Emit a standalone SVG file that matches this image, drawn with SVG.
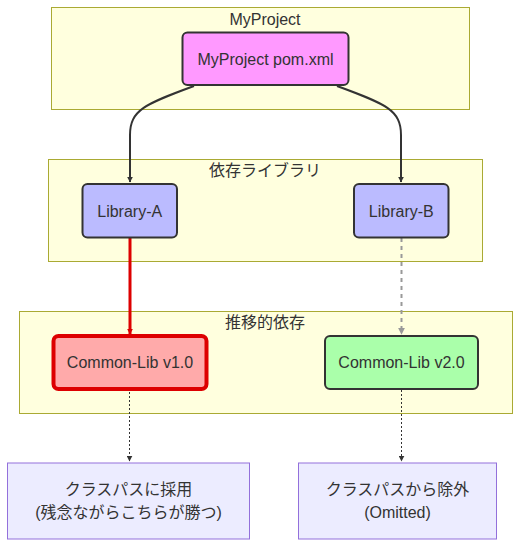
<svg xmlns="http://www.w3.org/2000/svg" width="528" height="556" viewBox="0 0 528 556">
<defs>
<style>
.cluster{fill:#ffffde;stroke:#aaaa33;stroke-width:1}
.lbl{font-family:"Liberation Sans","Noto Sans CJK JP",sans-serif;font-size:16px;fill:#333;text-anchor:middle}
.node{stroke:#333;stroke-width:2}
.edge{fill:none;stroke:#333;stroke-width:2}
</style>
<marker id="arrBlack" viewBox="0 0 10 10" refX="9" refY="5" markerWidth="6" markerHeight="6" markerUnits="userSpaceOnUse" orient="auto"><path d="M0,0 L10,5 L0,10 z" fill="#333"/></marker>
<marker id="arrRed" viewBox="0 0 10 10" refX="9" refY="5" markerWidth="6" markerHeight="6" markerUnits="userSpaceOnUse" orient="auto"><path d="M0,0 L10,5 L0,10 z" fill="#dd0000"/></marker>
<marker id="arrGray" viewBox="0 0 10 10" refX="9" refY="5" markerWidth="7" markerHeight="7" markerUnits="userSpaceOnUse" orient="auto"><path d="M0,0 L10,5 L0,10 z" fill="#999"/></marker>
</defs>
<rect width="528" height="556" fill="#fff"/>
<g id="cluster-MyProject">
<rect class="cluster" x="51.5" y="7.5" width="418" height="102"/>
<text class="lbl" x="265" y="24.5">MyProject</text>
</g>
<g id="cluster-deps">
<rect class="cluster" x="48.5" y="159.5" width="434" height="102"/>
<text class="lbl" x="265" y="175.5">依存ライブラリ</text>
</g>
<g id="cluster-trans">
<rect class="cluster" x="19.5" y="311.5" width="493" height="102"/>
<text class="lbl" x="265" y="327.5">推移的依存</text>
</g>
<g id="connectors">
<path class="edge" d="M194,86 C145,104 130,110 130,135 L130,182" marker-end="url(#arrBlack)"/>
<path class="edge" d="M337,86 C386,104 401,110 401,135 L401,182" marker-end="url(#arrBlack)"/>
<path fill="none" stroke="#dd0000" stroke-width="3" d="M130,238 L130,334" marker-end="url(#arrRed)"/>
<path fill="none" stroke="#999" stroke-width="2" stroke-dasharray="4 4" d="M401.5,238 L401.5,334" marker-end="url(#arrGray)"/>
<path fill="none" stroke="#333" stroke-width="1" stroke-dasharray="2 2" d="M129.5,392 L129.5,461" marker-end="url(#arrBlack)"/>
<path fill="none" stroke="#333" stroke-width="1" stroke-dasharray="2 2" d="M401.5,390 L401.5,461" marker-end="url(#arrBlack)"/>
</g>
<g id="node-pom">
<rect class="node" x="182.5" y="32.5" width="166" height="52.5" rx="5" fill="#ff99ff"/>
<text class="lbl" x="265.5" y="64.5">MyProject pom.xml</text>
</g>
<g id="node-libA">
<rect class="node" x="82.5" y="184" width="94.5" height="53.5" rx="5" fill="#bbbbff"/>
<text class="lbl" x="129.7" y="216.5">Library-A</text>
</g>
<g id="node-libB">
<rect class="node" x="354" y="184" width="94.5" height="53.5" rx="5" fill="#bbbbff"/>
<text class="lbl" x="401.3" y="216.5">Library-B</text>
</g>
<g id="node-common1">
<rect x="53.5" y="336" width="153" height="53" rx="5" fill="#ffaaaa" stroke="#dd0000" stroke-width="4"/>
<text class="lbl" x="130" y="368">Common-Lib v1.0</text>
</g>
<g id="node-common2">
<rect class="node" x="325" y="336" width="153" height="53" rx="5" fill="#aaffaa"/>
<text class="lbl" x="401.5" y="368">Common-Lib v2.0</text>
</g>
<g id="node-adopted">
<rect x="7.5" y="463" width="242" height="76" fill="#ececff" stroke="#9370db" stroke-width="1"/>
<text class="lbl" x="128.5" y="495">クラスパスに採用</text>
<text class="lbl" x="128.5" y="517.5">(残念ながらこちらが勝つ)</text>
</g>
<g id="node-omitted">
<rect x="298.5" y="463" width="198" height="76" fill="#ececff" stroke="#9370db" stroke-width="1"/>
<text class="lbl" x="397.5" y="495">クラスパスから除外</text>
<text class="lbl" x="397.5" y="517.5">(Omitted)</text>
</g>
</svg>
